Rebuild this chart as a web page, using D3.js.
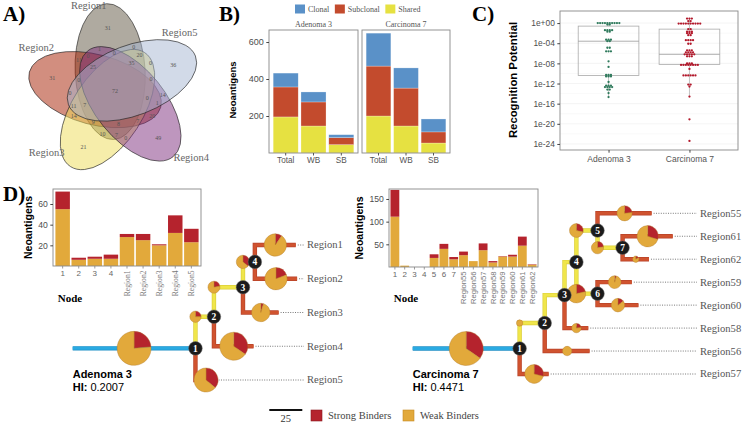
<!DOCTYPE html>
<meta charset="utf-8">
<head>
    <script type="text/javascript" src="https://cdn.jsdelivr.net/npm/d3@7"></script>
    <style>
        body { margin: 0; background: #fff; }
    </style>
    <title>Neoantigens</title>
</head>
<body>
<svg id="fig" width="743" height="426"></svg>
<script>

    // ---------- A) venn counts, sets listed clockwise from the top
    var vennSets = ["Region1", "Region5", "Region4", "Region3", "Region2"];
    var vennFill = ["#5f5541", "#a5b5d1", "#7d2d7d", "#eddb55", "#a51e00"];
    var vennOnly = [31, 36, 49, 21, 31];
    var vennRingA = [25, 35, 0, 8, 7];
    var vennRingB = [0, 0, 7, 9, 0];
    var vennRingC = [11, 0, 14, 0, 14];
    var vennRingD = [0, 20, 1, 7, 11];
    var vennRingE = [1, 0, 20, 10, 0];
    var vennAll = 72;

    // ---------- B) neoantigen classes
    var bCats = ["Total", "WB", "SB"];
    var bClasses = ["Clonal", "Subclonal", "Shared"];
    var adenomaShared = [195, 146, 45];
    var adenomaSubclonal = [162, 130, 38];
    var adenomaClonal = [75, 54, 16];
    var carcinomaShared = [200, 146, 54];
    var carcinomaSubclonal = [270, 205, 60];
    var carcinomaClonal = [178, 109, 70];

    // ---------- C) recognition potential (log10 values)
    var rpGroups = ["Adenoma 3", "Carcinoma 7"];
    var adenomaRP = [0, 0, 0, 0, 0, 0, 0, 0, 0, 0, -0.3, -0.3, -1.4, -1.4, -1.4, -1.4, -1.7, -1.7,
        -3.3, -3.3, -3.3, -3.6, -3.6, -4.9, -4.9, -5.6, -5.6, -5.6, -7.6, -8.7,
        -10.3, -10.3, -10.3, -10.6, -10.6, -10.6, -11.7, -12.4, -12.4, -12.4,
        -12.7, -12.7, -12.7, -12.7, -13.2, -13.2, -13.9, -14.7];
    var carcinomaRP = [0.9, 0.9, 0.9, 0.4, 0.4, -0.1, -0.1, -0.1, -0.1, -0.1, -0.1, -0.1, -0.1, -0.1, -0.1,
        -1.2, -1.2, -1.7, -1.7, -1.7, -2.0, -2.0, -2.0, -2.4, -2.4, -3.4, -3.4, -3.4, -3.4, -4.1, -4.1,
        -5.4, -5.4, -5.4, -5.8, -5.8, -5.8, -5.8, -6.2, -6.2, -6.2, -6.2, -6.2, -6.6, -6.6, -6.6,
        -8.0, -8.0, -8.0, -8.3, -8.3, -8.3, -8.3, -8.3, -8.3, -8.3, -8.3, -9.1,
        -10.4, -10.4, -10.4, -10.4, -10.4, -10.4, -12.2, -12.2, -12.6, -14.6, -19.1, -23.4];
    var rpQ1 = [-10.4, -8.2];
    var rpMedian = [-3.6, -6.2];
    var rpQ3 = [-0.6, -1.2];
    var rpLow = [-14.7, -14.6];
    var rpHigh = [0, 0.9];
    var rpTicks = [0, -4, -8, -12, -16, -20, -24];

    // ---------- D) trees
    var adenomaNodes = ["1", "2", "3", "4", "Region1", "Region2", "Region3", "Region4", "Region5"];
    var adenomaParent = [null, "1", "2", "3", "4", "4", "3", "2", "1"];
    var adenomaBranch = [93, 14, 22, 9, 31, 32, 27, 30, 16];
    var adenomaWeak = [55, 6, 7, 7, 28, 25, 20, 32, 23];
    var adenomaStrong = [17, 2, 2, 4, 3, 6, 1, 17, 13];
    var adenomaLeaves = ["Region1", "Region2", "Region3", "Region4", "Region5"];

    var carcinomaNodes = ["1", "2", "3", "4", "5", "6", "7", "Region55", "Region56", "Region57",
        "Region58", "Region59", "Region60", "Region61", "Region62"];
    var carcinomaParent = [null, "1", "2", "3", "4", "4", "5", "5", "2", "1", "3", "6", "6", "7", "7"];
    var carcinomaBranch = [81, 19, 15, 9, 16, 16, 19, 41, 34, 22, 18, 26, 31, 38, 20];
    var carcinomaWeak = [111, 3, 0, 0, 20, 40, 17, 26, 13, 37, 10, 23, 23, 47, 5];
    var carcinomaStrong = [59, 0, 0, 0, 8, 11, 5, 8, 0, 15, 3, 1, 4, 20, 1];
    var carcinomaLeaves = ["Region55", "Region61", "Region62", "Region59", "Region60", "Region58", "Region56", "Region57"];

    var SERIF = '"Liberation Serif", "Times New Roman", serif';
    var SANS = '"Liberation Sans", Arial, Helvetica, sans-serif';
    var rad = Math.PI / 180;
    var svg = d3.select("#fig");

    // panel letters
    [["A)", 3, 21], ["B)", 219, 21], ["C)", 472, 21], ["D)", 3, 201]].forEach(function (p) {
        svg.append("text").attr("x", p[1]).attr("y", p[2]).text(p[0])
            .attr("font-family", SERIF).attr("font-weight", "bold").attr("font-size", 21);
    });

    // ================= A) Venn
    var vc = [115, 91];
    var gA = svg.append("g");
    // drawn in set order Region1..Region5
    [0, 4, 3, 2, 1].forEach(function (i) {
        var a = -90 + 72 * i;
        var cx = vc[0] + 20 * Math.cos((a - 14) * rad), cy = vc[1] + 20 * Math.sin((a - 14) * rad);
        gA.append("ellipse").attr("rx", 68).attr("ry", 35)
            .attr("transform", "translate(" + cx + "," + cy + ") rotate(" + (a - 3) + ")")
            .attr("fill", vennFill[i]).attr("fill-opacity", 0.5)
            .attr("stroke", "#222").attr("stroke-width", 0.6);
    });
    var rings = [[vennOnly, 64, -6.5], [vennRingA, 33, -42], [vennRingB, 38, -1],
        [vennRingC, 48, -49], [vennRingD, 44, -38], [vennRingE, 45, -20]];
    rings.forEach(function (ring) {
        ring[0].forEach(function (v, i) {
            var a = (-90 + 72 * i + ring[2]) * rad;
            gA.append("text").attr("x", vc[0] + ring[1] * Math.cos(a)).attr("y", vc[1] + ring[1] * Math.sin(a))
                .attr("dy", "0.35em").attr("text-anchor", "middle").text(v)
                .attr("font-family", SERIF).attr("font-size", 6).attr("fill", "#555");
        });
    });
    gA.append("text").attr("x", vc[0]).attr("y", vc[1]).attr("dy", "0.35em").attr("text-anchor", "middle")
        .text(vennAll).attr("font-family", SERIF).attr("font-size", 6).attr("fill", "#555");
    var catOff = [-17, -24, -13, 12, 11], catR = [90, 87, 101, 92, 90];
    vennSets.forEach(function (s, i) {
        var a = (-90 + 72 * i + catOff[i]) * rad;
        gA.append("text").attr("x", vc[0] + catR[i] * Math.cos(a)).attr("y", vc[1] + catR[i] * Math.sin(a))
            .attr("dy", "0.35em").attr("text-anchor", "middle").text(s)
            .attr("font-family", SERIF).attr("font-size", 10.5).attr("fill", "#666");
    });

    // ================= B) stacked bars
    var bColor = {Clonal: "#5a91c8", Subclonal: "#c34b2d", Shared: "#e6e141"};
    var bY = d3.scaleLinear().domain([0, 665]).range([153, 30]);
    var gB = svg.append("g");
    var facets = [
        {name: "Adenoma 3", x0: 269, x1: 358, Shared: adenomaShared, Subclonal: adenomaSubclonal, Clonal: adenomaClonal},
        {name: "Carcinoma 7", x0: 362, x1: 450, Shared: carcinomaShared, Subclonal: carcinomaSubclonal, Clonal: carcinomaClonal}
    ];
    facets.forEach(function (f) {
        var x = d3.scaleBand().domain(bCats).range([f.x0, f.x1]).paddingInner(0.1).paddingOuter(0.15);
        var rows = bCats.map(function (c, i) {
            return {cat: c, Shared: f.Shared[i], Subclonal: f.Subclonal[i], Clonal: f.Clonal[i]};
        });
        var stack = d3.stack().keys(["Shared", "Subclonal", "Clonal"])(rows);
        stack.forEach(function (layer) {
            gB.selectAll(null).data(layer).enter().append("rect")
                .attr("x", function (d) { return x(d.data.cat); })
                .attr("width", x.bandwidth())
                .attr("y", function (d) { return bY(d[1]); })
                .attr("height", function (d) { return bY(d[0]) - bY(d[1]); })
                .attr("fill", bColor[layer.key]).attr("stroke", "#fff").attr("stroke-opacity", 0.5).attr("stroke-width", 0.5);
        });
        gB.append("rect").attr("x", f.x0).attr("y", 30).attr("width", f.x1 - f.x0).attr("height", 123)
            .attr("fill", "none").attr("stroke", "#888").attr("stroke-width", 0.9);
        gB.append("text").attr("x", (f.x0 + f.x1) / 2).attr("y", 27).attr("text-anchor", "middle").text(f.name)
            .attr("font-family", SERIF).attr("font-size", 8).attr("fill", "#555");
        var ax = gB.append("g").attr("transform", "translate(0,153)")
            .call(d3.axisBottom(x).tickSize(2.5).tickPadding(2).tickSizeOuter(0));
        ax.select(".domain").remove();
        ax.selectAll("line").attr("stroke", "#555");
        ax.selectAll("text").attr("font-family", SANS).attr("font-size", 8.2).attr("fill", "#555");
    });
    var bAx = gB.append("g").attr("transform", "translate(269,0)")
        .call(d3.axisLeft(bY).tickValues([200, 400, 600]).tickSize(2.7).tickPadding(2.5).tickSizeOuter(0));
    bAx.select(".domain").remove();
    bAx.selectAll("line").attr("stroke", "#444");
    bAx.selectAll("text").attr("font-family", SANS).attr("font-size", 9).attr("fill", "#4d4d4d");
    gB.append("text").attr("transform", "translate(235.5,90) rotate(-90)").attr("text-anchor", "middle")
        .text("Neoantigens").attr("font-family", SANS).attr("font-weight", "bold").attr("font-size", 9.5);
    var lx = 295;
    bClasses.forEach(function (c) {
        gB.append("rect").attr("x", lx).attr("y", 4.5).attr("width", 10).attr("height", 9).attr("fill", bColor[c]);
        var t = gB.append("text").attr("x", lx + 13).attr("y", 12).text(c)
            .attr("font-family", SERIF).attr("font-size", 8).attr("fill", "#555");
        lx += 13 + t.node().getComputedTextLength() + 5.5;
    });

    // ================= C) recognition potential
    var gC = svg.append("g");
    var cY = d3.scaleLinear().domain([-25.2, 2.4]).range([150, 11]);
    var cX = d3.scalePoint().domain(rpGroups).range([560, 738]).padding(0.6);
    var cStep = cX.step();
    d3.range(-24, 2, 2).forEach(function (t) {
        gC.append("line").attr("x1", 560).attr("x2", 738).attr("y1", cY(t)).attr("y2", cY(t))
            .attr("stroke", t % 4 === 0 ? "#ececec" : "#f5f5f5").attr("stroke-width", 0.6);
    });
    var rpData = [adenomaRP, carcinomaRP];
    var rpColor = ["#2f7a5c", "#b2182b"];
    rpGroups.forEach(function (g, i) {
        var cx = cX(g), w = cStep * 0.75;
        gC.append("line").attr("x1", cx).attr("x2", cx).attr("y1", cY(rpQ1[i])).attr("y2", cY(rpLow[i]))
            .attr("stroke", "#aaa").attr("stroke-width", 0.7);
        gC.append("line").attr("x1", cx).attr("x2", cx).attr("y1", cY(rpQ3[i])).attr("y2", cY(rpHigh[i]))
            .attr("stroke", "#aaa").attr("stroke-width", 0.7);
        gC.append("rect").attr("x", cx - w / 2).attr("width", w).attr("y", cY(rpQ3[i]))
            .attr("height", cY(rpQ1[i]) - cY(rpQ3[i])).attr("fill", "none").attr("stroke", "#aaa").attr("stroke-width", 0.8);
        gC.append("line").attr("x1", cx - w / 2).attr("x2", cx + w / 2).attr("y1", cY(rpMedian[i])).attr("y2", cY(rpMedian[i]))
            .attr("stroke", "#999").attr("stroke-width", 0.8);
        var groups = d3.groups(rpData[i], function (v) { return v; });
        groups.forEach(function (gr) {
            var n = gr[1].length;
            gr[1].forEach(function (v, j) {
                gC.append("circle").attr("cx", cx + (j - (n - 1) / 2) * 2.4).attr("cy", cY(v)).attr("r", 1.15)
                    .attr("fill", rpColor[i]);
            });
        });
    });
    gC.append("rect").attr("x", 560).attr("y", 11).attr("width", 178).attr("height", 139)
        .attr("fill", "none").attr("stroke", "#888").attr("stroke-width", 0.9);
    var cAx = gC.append("g").attr("transform", "translate(560,0)")
        .call(d3.axisLeft(cY).tickValues(rpTicks).tickSize(2.7).tickPadding(2.5).tickSizeOuter(0)
            .tickFormat(function (v) { return "1e" + (v >= 0 ? "+" : "-") + String(Math.abs(v)).padStart(2, "0"); }));
    cAx.select(".domain").remove();
    cAx.selectAll("line").attr("stroke", "#444");
    cAx.selectAll("text").attr("font-family", SANS).attr("font-size", 8.4).attr("fill", "#4d4d4d");
    var cBx = gC.append("g").attr("transform", "translate(0,150)")
        .call(d3.axisBottom(cX).tickSize(2.7).tickPadding(3).tickSizeOuter(0));
    cBx.select(".domain").remove();
    cBx.selectAll("line").attr("stroke", "#444");
    cBx.selectAll("text").attr("font-family", SANS).attr("font-size", 8.5).attr("fill", "#555");
    gC.append("text").attr("transform", "translate(517,80) rotate(-90)").attr("text-anchor", "middle")
        .text("Recognition Potential").attr("font-family", SANS).attr("font-weight", "bold").attr("font-size", 11.3);

    // ================= D) node bars + trees
    var strongCol = "#b5232d", weakCol = "#e2a93b";

    function nodeBars(names, weak, strong, box, yMax, ticks, regionFont, titleX) {
        var g = svg.append("g");
        var x = d3.scaleBand().domain(names).range([box.left, box.right]).paddingInner(0.1).paddingOuter(0.15);
        var y = d3.scaleLinear().domain([0, yMax]).range([box.bottom, box.top]);
        names.forEach(function (n, i) {
            g.append("rect").attr("x", x(n)).attr("width", x.bandwidth()).attr("y", y(weak[i]))
                .attr("height", y(0) - y(weak[i])).attr("fill", weakCol);
            g.append("rect").attr("x", x(n)).attr("width", x.bandwidth()).attr("y", y(weak[i] + strong[i]))
                .attr("height", y(weak[i]) - y(weak[i] + strong[i])).attr("fill", strongCol);
            var cx = x(n) + x.bandwidth() / 2;
            g.append("line").attr("x1", cx).attr("x2", cx).attr("y1", box.bottom).attr("y2", box.bottom + 2.5)
                .attr("stroke", "#555").attr("stroke-width", 0.6);
            if (n.indexOf("Region") === 0) {
                g.append("text").attr("transform", "translate(" + (cx + 2.6) + "," + (box.bottom + 4.5) + ") rotate(-90)")
                    .attr("text-anchor", "end").text(n)
                    .attr("font-family", regionFont).attr("font-size", 7.6).attr("fill", "#777");
            } else {
                g.append("text").attr("x", cx).attr("y", box.bottom + 10).attr("text-anchor", "middle").text(n)
                    .attr("font-family", SANS).attr("font-size", 8).attr("fill", "#666");
            }
        });
        g.append("rect").attr("x", box.left).attr("y", box.top).attr("width", box.right - box.left)
            .attr("height", box.bottom - box.top).attr("fill", "none").attr("stroke", "#888").attr("stroke-width", 0.9);
        var ax = g.append("g").attr("transform", "translate(" + box.left + ",0)")
            .call(d3.axisLeft(y).tickValues(ticks).tickSize(2.7).tickPadding(2.5).tickSizeOuter(0));
        ax.select(".domain").remove();
        ax.selectAll("line").attr("stroke", "#444");
        ax.selectAll("text").attr("font-family", SANS).attr("font-size", 8.6).attr("fill", "#4d4d4d");
        g.append("text").attr("transform", "translate(" + titleX + "," + (box.top + box.bottom) / 2 + ") rotate(-90)")
            .attr("text-anchor", "middle").text("Neoantigens")
            .attr("font-family", SANS).attr("font-weight", "bold").attr("font-size", 10.5);
        g.append("text").attr("x", box.left + 17).attr("y", 302).attr("text-anchor", "middle").text("Node")
            .attr("font-family", SERIF).attr("font-weight", "bold").attr("font-size", 11);
    }

    nodeBars(adenomaNodes, adenomaWeak, adenomaStrong, {left: 53, right: 201, top: 189, bottom: 266},
        74.5, [20, 40, 60], SERIF, 32);
    nodeBars(carcinomaNodes, carcinomaWeak, carcinomaStrong, {left: 389, right: 538, top: 189, bottom: 267},
        172, [50, 100, 150], SANS, 363);

    var lenScale = d3.scaleLinear().domain([0, 25]).range([0, 33]);

    function drawTree(nodes, parents, branch, weak, strong, leaves, opt) {
        var g = svg.append("g");
        var rows = nodes.map(function (n, i) {
            return {id: n, parent: parents[i], len: branch[i], weak: weak[i], strong: strong[i]};
        });
        var root = d3.stratify().id(function (d) { return d.id; }).parentId(function (d) { return d.parent; })(rows);
        var leafY = d3.scalePoint().domain(leaves).range([opt.yTop, opt.yBottom]);
        root.eachBefore(function (n) {
            n.px = (n.parent ? n.parent.px : opt.x0) + lenScale(n.data.len);
        });
        root.eachAfter(function (n) {
            n.py = n.children ? d3.mean(n.children, function (c) { return c.py; }) : leafY(n.id);
        });
        var maxTot = d3.max(rows, function (d) { return d.weak + d.strong; });
        var rScale = d3.scaleSqrt().domain([0, maxTot]).range([0, 17]);

        function edge(pts, col, dark) {
            var line = d3.line();
            g.append("path").attr("d", line(pts)).attr("fill", "none").attr("stroke", dark).attr("stroke-width", 4.4);
            g.append("path").attr("d", line(pts)).attr("fill", "none").attr("stroke", col).attr("stroke-width", 3);
        }
        // trunk
        edge([[opt.x0, root.py], [root.px, root.py]], "#2aaae2", "#1f8fc6");
        root.descendants().slice(1).forEach(function (n) {
            var leaf = !n.children;
            edge([[n.parent.px, n.parent.py], [n.parent.px, n.py], [n.px, n.py]],
                leaf ? "#d0532f" : "#f0e64a", leaf ? "#b8432a" : "#dccf3a");
            if (leaf) {
                g.append("line").attr("x1", n.px + 2).attr("x2", opt.labelX - 3).attr("y1", n.py).attr("y2", n.py)
                    .attr("stroke", "#555").attr("stroke-width", 0.8).attr("stroke-dasharray", "1,1.4");
                g.append("text").attr("x", opt.labelX).attr("y", n.py).attr("dy", "0.33em").text(n.id)
                    .attr("font-family", SERIF).attr("font-size", 10.6).attr("fill", "#555");
            }
        });
        var pie = d3.pie().sort(null);
        root.descendants().forEach(function (n) {
            var tot = n.data.weak + n.data.strong;
            if (tot === 0) return;
            var cx, cy = n.py;
            if (!n.parent) cx = (opt.x0 + n.px) / 2;
            else if (n.children) cx = n.parent.px;
            else cx = (n.parent.px + n.px) / 2;
            var r = Math.max(3.2, rScale(tot));
            var arc = d3.arc().innerRadius(0).outerRadius(r);
            var pg = g.append("g").attr("transform", "translate(" + cx + "," + cy + ")");
            pg.selectAll("path").data(pie([n.data.strong, n.data.weak])).enter().append("path")
                .attr("d", arc).attr("fill", function (d, k) { return k === 0 ? strongCol : weakCol; })
                .attr("stroke", "#b07a2a").attr("stroke-width", 0.4);
        });
        root.descendants().filter(function (n) { return n.children; }).forEach(function (n) {
            g.append("circle").attr("cx", n.px).attr("cy", n.py).attr("r", 6.8)
                .attr("fill", "#1b1b1b").attr("stroke", "#666").attr("stroke-width", 0.5);
            g.append("text").attr("x", n.px).attr("y", n.py).attr("dy", "0.35em").attr("text-anchor", "middle")
                .text(n.id).attr("font-family", SERIF).attr("font-weight", "bold").attr("font-size", 9.5).attr("fill", "#fff");
        });
        g.append("text").attr("x", opt.x0).attr("y", 378).text(opt.name)
            .attr("font-family", SANS).attr("font-weight", "bold").attr("font-size", 11);
        var hi = g.append("text").attr("x", opt.x0).attr("y", 391)
            .attr("font-family", SANS).attr("font-size", 11);
        hi.append("tspan").attr("font-weight", "bold").text("HI: ");
        hi.append("tspan").text(opt.hi);
    }

    drawTree(adenomaNodes, adenomaParent, adenomaBranch, adenomaWeak, adenomaStrong, adenomaLeaves,
        {x0: 72.7, yTop: 245, yBottom: 380, labelX: 307, name: "Adenoma 3", hi: "0.2007"});
    drawTree(carcinomaNodes, carcinomaParent, carcinomaBranch, carcinomaWeak, carcinomaStrong, carcinomaLeaves,
        {x0: 412.7, yTop: 213.3, yBottom: 374, labelX: 700, name: "Carcinoma 7", hi: "0.4471"});

    // bottom legend: scale bar + binder colours
    var gL = svg.append("g");
    gL.append("line").attr("x1", 269.3).attr("x2", 269.3 + lenScale(25)).attr("y1", 410).attr("y2", 410)
        .attr("stroke", "#111").attr("stroke-width", 2);
    gL.append("text").attr("x", 269.3 + lenScale(25) / 2).attr("y", 422).attr("text-anchor", "middle").text("25")
        .attr("font-family", SERIF).attr("font-size", 10.5).attr("fill", "#333");
    [["Strong Binders", strongCol, "#8a1a20", 311], ["Weak Binders", weakCol, "#c68a22", 403]].forEach(function (l) {
        gL.append("rect").attr("x", l[3]).attr("y", 410).attr("width", 11).attr("height", 11)
            .attr("fill", l[1]).attr("stroke", l[2]).attr("stroke-width", 0.6);
        gL.append("text").attr("x", l[3] + 17).attr("y", 419).text(l[0])
            .attr("font-family", SERIF).attr("font-size", 10.5).attr("fill", "#444");
    });

</script>
</body>
